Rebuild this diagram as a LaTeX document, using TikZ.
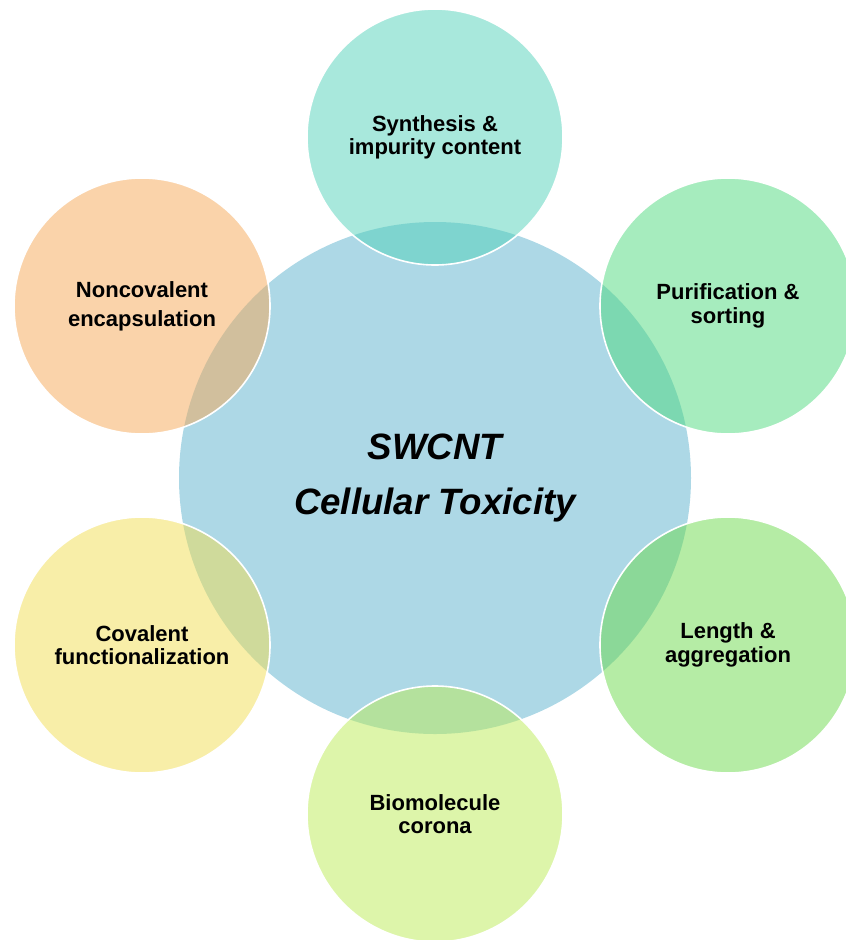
\documentclass[tikz,border=0pt]{standalone}
\usepackage{fontspec}
\setmainfont{Liberation Sans}
\usepackage{tikz}

\definecolor{hubblue}{RGB}{173,216,230}
\definecolor{synthcol}{RGB}{81,209,185}
\definecolor{purifcol}{RGB}{77,217,125}
\definecolor{lengthcol}{RGB}{107,217,75}
\definecolor{biomolcol}{RGB}{187,235,85}
\definecolor{covalcol}{RGB}{241,221,81}
\definecolor{noncovcol}{RGB}{245,167,85}

\begin{document}
\begin{tikzpicture}[x=0.75pt, y=-0.75pt]

        % Define styles
        \tikzstyle{hub} = [circle, fill=hubblue, minimum size=384pt, inner sep=0pt, align=center, font=\fontsize{27.5}{41}\selectfont\bfseries\itshape]
        \tikzstyle{factor} = [circle, draw=white, line width=1.2pt, fill opacity=0.5, text opacity=1, minimum size=192pt, inner sep=0pt, align=center, font=\fontsize{16.5}{17.5}\selectfont\bfseries]

        \useasboundingbox (0,0) rectangle (846,940);

        % Place nodes
        \node [hub] (tox) at (435,478) {SWCNT\\Cellular Toxicity};
        \node [factor, fill=synthcol] (synth) at (435,137) {Synthesis \&\\impurity content};
        \node [factor, fill=purifcol] (purif) at (728,306) {Purification \&\\sorting};
        \node [factor, fill=lengthcol] (length) at (728,645) {Length \&\\aggregation};
        \node [factor, fill=biomolcol] (biomol) at (435,814) {Biomolecule\\corona};
        \node [factor, fill=covalcol] (coval) at (142,645) {Covalent\\functionalization};
        \node [factor, fill=noncovcol, font=\fontsize{16.5}{22}\selectfont\bfseries] (noncov) at (142,306) {Noncovalent\\encapsulation};

\end{tikzpicture}
\end{document}
